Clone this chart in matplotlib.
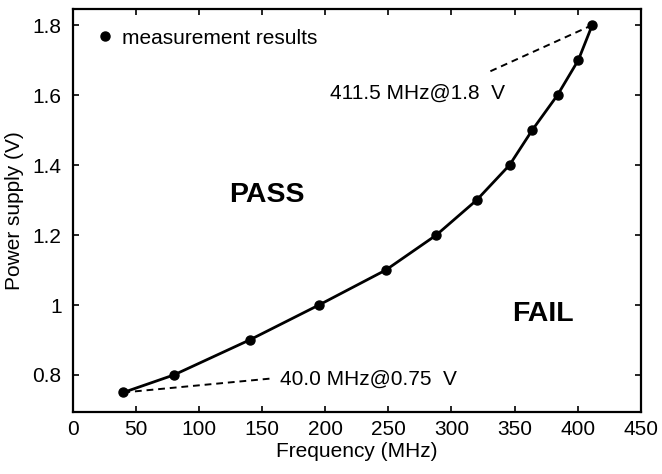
import matplotlib
matplotlib.use("Agg")
import matplotlib.pyplot as plt

plt.rcParams['font.family'] = ['Liberation Sans', 'DejaVu Sans']

# Data
freq_mhz = [40.0, 80, 140, 195, 248, 288, 320, 346, 364, 384, 400.5, 411.5]
voltage = [0.75, 0.8, 0.9, 1.0, 1.1, 1.2, 1.3, 1.4, 1.5, 1.6, 1.7, 1.8]
xticks = [0, 50, 100, 150, 200, 250, 300, 350, 400, 450]
yticks = [0.8, 1.0, 1.2, 1.4, 1.6, 1.8]
ytick_labels = ["0.8", "1", "1.2", "1.4", "1.6", "1.8"]

# annotation leader ends (data coordinates)
top_leader_end = (327.7, 1.663)
bottom_leader_end = (157.4, 0.790)

fig = plt.figure(figsize=(6.62, 4.74), dpi=100)
ax = fig.add_axes([0.11, 0.1314, 0.858, 0.8496])

ax.plot(freq_mhz, voltage, '-', color='black', lw=2.0, zorder=3)
ax.plot(freq_mhz, voltage, 'o', color='black', ms=6.5, zorder=4,
        label='measurement results')

ax.set_xlim(0, 450)
ax.set_ylim(0.695, 1.846)
ax.set_xticks(xticks)
ax.set_yticks(yticks)
ax.set_yticklabels(ytick_labels)
ax.tick_params(direction='in', top=True, right=True, length=4, width=1.2,
               labelsize=15, pad=6, colors='black')
ax.tick_params(axis='y', pad=8)
for s in ax.spines.values():
    s.set_linewidth(1.6)

ax.set_xlabel('Frequency (MHz)', fontsize=15, labelpad=2)
ax.set_ylabel('Power supply (V)', fontsize=15, labelpad=6)

# annotations
ax.plot([freq_mhz[-1], top_leader_end[0]], [voltage[-1], top_leader_end[1]],
        linestyle=(0, (3.5, 2.5)), lw=1.4, color='black', zorder=2)
ax.plot([freq_mhz[0], bottom_leader_end[0]], [voltage[0], bottom_leader_end[1]],
        linestyle=(0, (3.5, 2.5)), lw=1.4, color='black', zorder=2)
ax.text(203.5, 1.606, '411.5 MHz@1.8  V', fontsize=15, va='center', ha='left')
ax.text(163.8, 0.788, '40.0 MHz@0.75  V', fontsize=15, va='center', ha='left')

ax.text(153.7, 1.313, 'PASS', fontsize=20.5, fontweight='bold', ha='center', va='center')
ax.text(372.8, 0.975, 'FAIL', fontsize=20.5, fontweight='bold', ha='center', va='center')

ax.legend(loc='center left', bbox_to_anchor=(0.0384, 0.928), frameon=False,
          borderaxespad=0, borderpad=0, handlelength=1.0, handletextpad=0.3,
          fontsize=15)

fig.savefig('out.png', dpi=100)
